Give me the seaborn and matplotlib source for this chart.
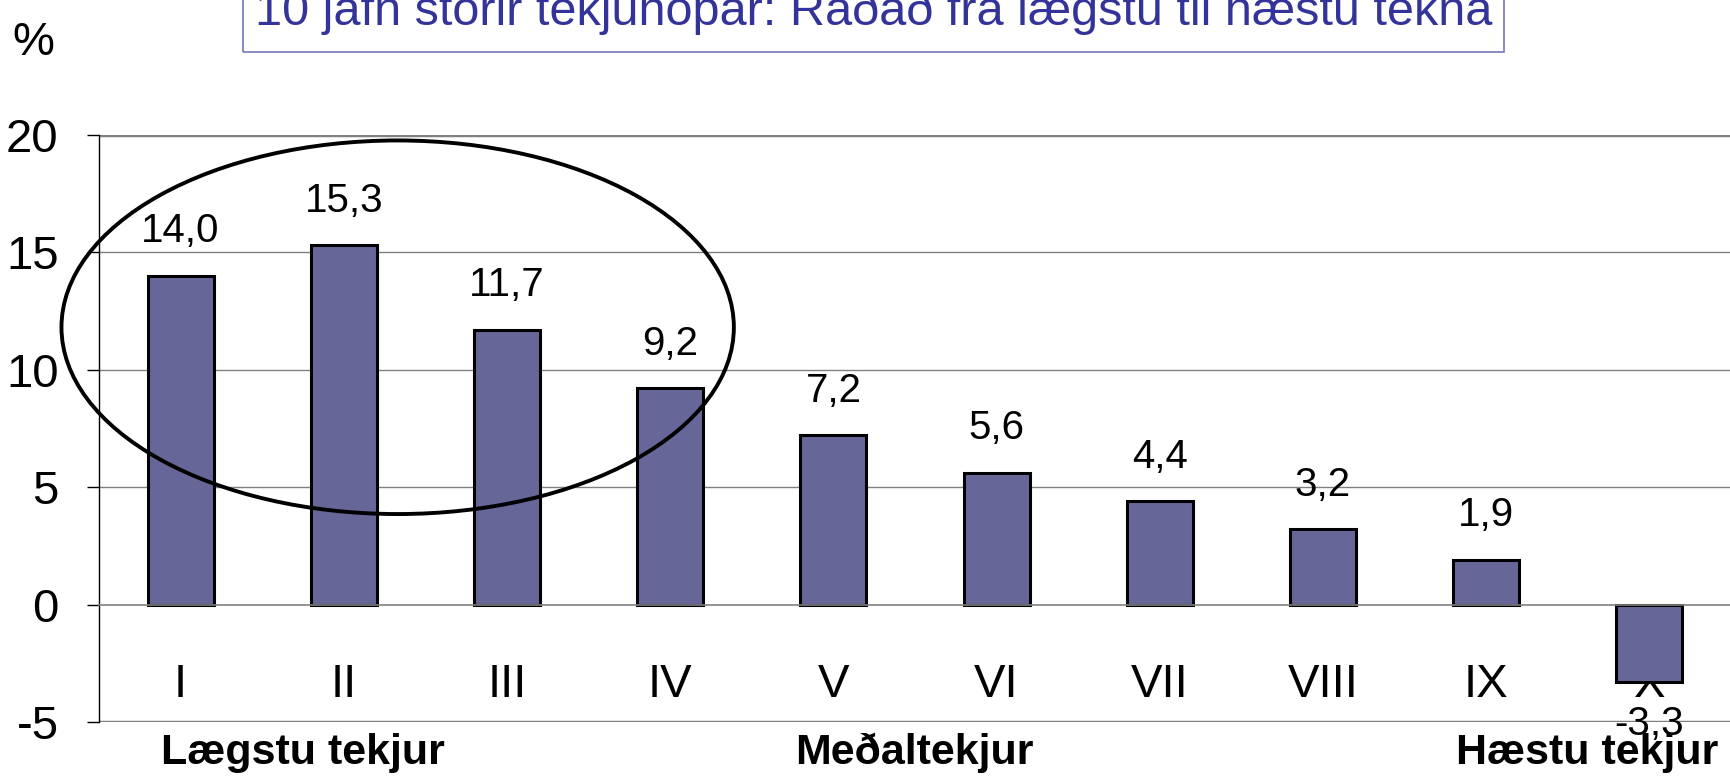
"""
Bar chart: change by income decile (10 equal income groups)
"""
import matplotlib
matplotlib.use("Agg")
import matplotlib.pyplot as plt
from matplotlib.patches import Ellipse, Rectangle
import seaborn as sns
import pandas as pd
import numpy as np

# Data
groups = ["I", "II", "III", "IV", "V", "VI", "VII", "VIII", "IX", "X"]
values = [14.0, 15.3, 11.7, 9.2, 7.2, 5.6, 4.4, 3.2, 1.9, -3.3]
y_ticks = [-5, 0, 5, 10, 15, 20]
title = "10 jafn stórir tekjuhópar: Raðað frá lægstu til hæstu tekna"
bottom_labels = ["Lægstu tekjur", "Meðaltekjur", "Hæstu tekjur"]

sns.set_style("white")
plt.rcParams['font.family'] = ['Liberation Sans', 'DejaVu Sans']
plt.rcParams['text.color'] = 'black'
plt.rcParams['xtick.color'] = 'black'
plt.rcParams['ytick.color'] = 'black'

df = pd.DataFrame({"group": groups, "value": values})

fig = plt.figure(figsize=(17.31, 7.78), dpi=100)
ax = fig.add_axes([0.0572, 0.072, 0.9428, 0.755])

# Gridlines (outer ones heavier)
for t in y_ticks:
    if t == 0:
        continue
    lw = 2.5 if t in (y_ticks[0], y_ticks[-1]) else 1.0
    ax.axhline(t, color="#808080", lw=lw, zorder=0)

sns.barplot(data=df, x="group", y="value", color="#666699", edgecolor="black",
            linewidth=2.2, width=0.405, saturation=1, ax=ax, zorder=2)

ax.set_ylim(-5, 20)
ax.set_xlim(-0.5, 9.5)
ax.set_yticks(y_ticks)
ax.set_yticklabels([str(t) for t in y_ticks], fontsize=34)
ax.tick_params(axis="y", direction="out", length=9, width=1, pad=20, left=True)

# x axis at zero, labels drawn below it
ax.spines["bottom"].set_position(("data", 0))
ax.spines["bottom"].set_color("#808080")
ax.spines["bottom"].set_linewidth(1.2)
ax.spines["top"].set_visible(False)
ax.spines["right"].set_visible(False)
ax.spines["left"].set_color("black")
ax.spines["left"].set_linewidth(1.0)
ax.set_xticks(np.arange(len(groups)))
ax.set_xticklabels(groups, fontsize=34)
ax.tick_params(axis="x", length=0, pad=42)
ax.set_xticks(np.arange(len(groups) + 1) - 0.5, minor=True)
ax.tick_params(axis="x", which="minor", direction="out", length=10, width=1, color="black")
ax.set_xlabel("")
ax.set_ylabel("")

# Value labels
for i, v in enumerate(values):
    off = 32 if v >= 0 else -30
    ax.annotate(f"{v:.1f}".replace(".", ","), (i, v), xytext=(0, off),
                textcoords="offset points", ha="center", va="center", fontsize=29)

# Ellipse around the lowest groups
ax.add_patch(Ellipse((1.33, 11.8), 4.12, 15.9, fill=False, edgecolor="black",
                     lw=2.8, zorder=3, clip_on=False))

# Percent sign
fig.text(0.007, 0.945, "%", fontsize=34, ha="left", va="center")

# Title box, top clipped by figure edge
fig.patches.append(Rectangle((0.1404, 0.933), 0.7286, 0.2, transform=fig.transFigure,
                             fill=False, edgecolor="#7777bb", lw=1.2))
fig.text(0.505, 0.968, title, fontsize=35, color="#333399", ha="center", va="baseline")

# Bottom labels
fig.text(0.175, 0.006, bottom_labels[0], fontsize=31, fontweight="bold", ha="center", va="bottom")
fig.text(0.528, 0.006, bottom_labels[1], fontsize=31, fontweight="bold", ha="center", va="bottom")
fig.text(0.917, 0.006, bottom_labels[2], fontsize=31, fontweight="bold", ha="center", va="bottom")

plt.savefig("out.png", dpi=100)
plt.close()
